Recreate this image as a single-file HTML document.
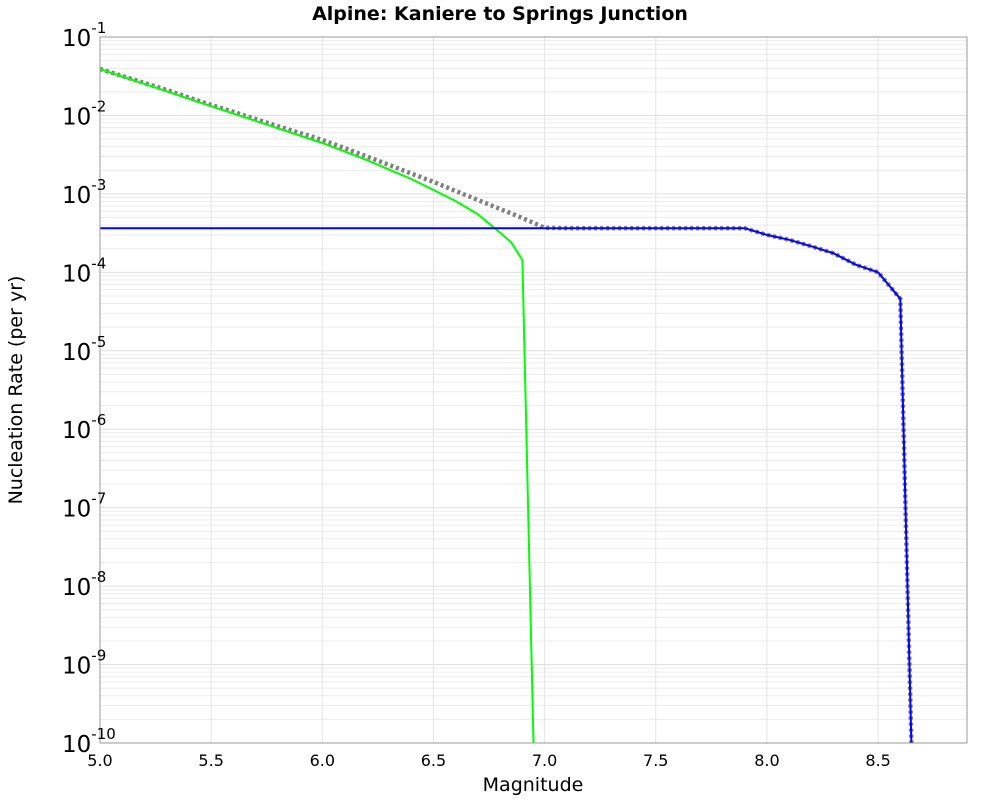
<!DOCTYPE html>
<html><head><meta charset="utf-8"><style>
body{margin:0;background:#fff;}
svg text{font-family:"DejaVu Sans","Liberation Sans",sans-serif;}
</style></head><body>
<svg id="chart" width="1000" height="800" xmlns="http://www.w3.org/2000/svg">
<text x="500" y="20" text-anchor="middle" font-size="19" font-weight="bold">Alpine: Kaniere to Springs Junction</text>
<g id="grid"></g>
<g id="series"></g>
<rect x="100" y="37" width="867" height="706" fill="none" stroke="#999" stroke-width="1"/>
<g id="xticks"></g>
<g id="yticks"></g>
<text x="533" y="791" text-anchor="middle" font-size="19">Magnitude</text>
<text transform="translate(22,390) rotate(-90)" text-anchor="middle" font-size="19">Nucleation Rate (per yr)</text>
</svg>
<script>
const xTicks=[5.0,5.5,6.0,6.5,7.0,7.5,8.0,8.5];
const yDecades=[-1,-2,-3,-4,-5,-6,-7,-8,-9,-10];
const totalMag=[5.0,5.1,5.2,5.3,5.4,5.5,5.6,5.7,5.8,5.9,6.0,6.1,6.2,6.3,6.4,6.5,6.6,6.7,6.8,6.9,7.0,7.1,7.2,7.3,7.4,7.5,7.6,7.7,7.8,7.9,8.0,8.1,8.2,8.3,8.4,8.5,8.6,8.65];
const totalRate=[3.91e-2,3.18e-2,2.59e-2,2.11e-2,1.69e-2,1.36e-2,1.11e-2,9.0e-3,7.3e-3,5.97e-3,4.86e-3,3.85e-3,3.0e-3,2.34e-3,1.82e-3,1.42e-3,1.09e-3,8.36e-4,6.41e-4,4.93e-4,3.7e-4,3.65e-4,3.65e-4,3.65e-4,3.65e-4,3.65e-4,3.65e-4,3.65e-4,3.65e-4,3.65e-4,3.0e-4,2.6e-4,2.15e-4,1.75e-4,1.25e-4,1.0e-4,4.6e-5,1e-10];
const charMag=[5.0,7.9,8.0,8.1,8.2,8.3,8.4,8.5,8.6,8.65];
const charRate=[3.65e-4,3.65e-4,3.0e-4,2.6e-4,2.15e-4,1.75e-4,1.25e-4,1.0e-4,4.6e-5,1e-10];
const grMag=[5.0,5.5,6.0,6.2,6.4,6.5,6.6,6.7,6.8,6.85,6.9,6.95];
const grRate=[3.9e-2,1.31e-2,4.46e-3,2.7e-3,1.55e-3,1.12e-3,8.1e-4,5.5e-4,3.2e-4,2.4e-4,1.43e-4,1e-10];

const NS="http://www.w3.org/2000/svg";
const X0=100,X1=967,Y0=37,Y1=743,xmin=5.0,xmax=8.9,lmax=-1,lmin=-10;
const xs=v=>X0+(v-xmin)/(xmax-xmin)*(X1-X0);
const ys=v=>Y0+(lmax-Math.log10(v))/(lmax-lmin)*(Y1-Y0);
function mk(t,a,p){const e=document.createElementNS(NS,t);for(const k in a)e.setAttribute(k,a[k]);p.appendChild(e);return e;}
const grid=document.getElementById('grid');
for(let d=-10;d<-1;d++){for(let m=2;m<=9;m++){const y=ys(m*Math.pow(10,d));
const l=mk('line',{x1:X0,x2:X1,y1:y,y2:y,stroke:'#ececec','stroke-width':1},grid);

}}
yDecades.forEach(d=>{const y=ys(Math.pow(10,d));
const l=mk('line',{x1:X0,x2:X1,y1:y,y2:y,stroke:'#e0e0e0','stroke-width':1},grid);


const t=mk('text',{x:X0-38,y:y+9,'text-anchor':'start','font-size':23},document.getElementById('yticks'));


t.innerHTML='10<tspan font-size="15" dy="-13">'+d+'</tspan>';});
xTicks.forEach(v=>{const x=xs(v);
const l=mk('line',{x1:x,x2:x,y1:Y0,y2:Y1,stroke:'#e4e4e4','stroke-width':1},grid);


const t=mk('text',{x:x,y:766,'text-anchor':'middle','font-size':16},document.getElementById('xticks'));


t.textContent=v.toFixed(1);});
const ser=document.getElementById('series');
function line(mags,rates,attrs,name){const pts=mags.map((m,i)=>xs(m).toFixed(1)+','+ys(rates[i]).toFixed(1)).join(' ');
const p=mk('polyline',Object.assign({points:pts,fill:'none'},attrs),ser);

}
const cp=mk('clipPath',{id:'clip'},document.getElementById('chart'));mk('rect',{x:X0,y:Y0,width:X1-X0,height:Y1-Y0},cp);
ser.setAttribute('clip-path','url(#clip)');
line(totalMag,totalRate,{stroke:'#808080','stroke-width':4.5,'stroke-dasharray':'3,3'},'total-mfd-line');
line(grMag,grRate,{stroke:'#00ff00','stroke-width':2},'gr-mfd-line');
line(charMag,charRate,{stroke:'#0000ff','stroke-width':2},'characteristic-mfd-line');
</script>
</body></html>
